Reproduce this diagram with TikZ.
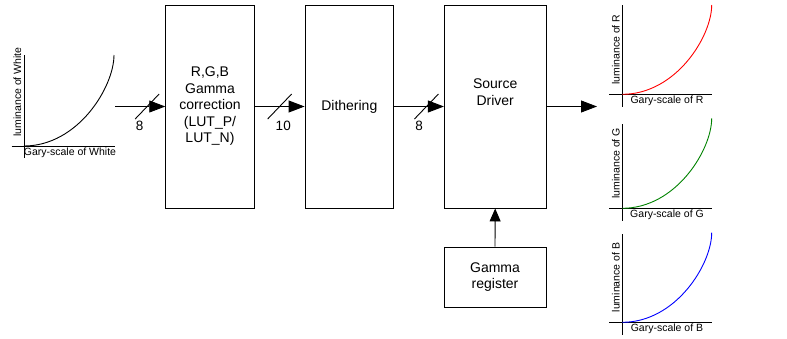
\documentclass[tikz,border=0pt]{standalone}
\usepackage{fontspec}
\setmainfont{Liberation Sans}
\usetikzlibrary{arrows.meta,positioning}
\definecolor{curveG}{RGB}{0,130,0}

\begin{document}
\begin{tikzpicture}[x=1pt, y=-1pt,
    block/.style={draw, line width=0.9pt, minimum width=88.6pt, minimum height=203pt,
        align=center, inner sep=0pt, font=\fontsize{14}{16.5}\selectfont},
    sig/.style={line width=0.9pt, -{Triangle[length=16pt,width=12pt]}},
    bus/.style={line width=0.9pt},
    num/.style={inner sep=0pt, font=\fontsize{13.5}{15}\selectfont},
    axis/.style={line width=0.9pt},
    small/.style={inner sep=1pt, font=\fontsize{10.5}{12}\selectfont}]
    \useasboundingbox (0,0) rectangle (787,338);

    % Blocks
    \node[block] (lut) at (210,106.5) {R,G,B\\Gamma\\correction\\(LUT\_P/\\LUT\_N)};
    \node[block] (dither) at (349.3,106.5) {Dithering};
    \node[block, minimum width=101.7pt] (driver) at (495.2,106.5) {};
    \node[align=center, font=\fontsize{14}{16.5}\selectfont] (drivertext)
        at ([yshift=14.5pt]driver.center) {Source\\Driver};
    \node[block, minimum width=102pt, minimum height=60.3pt] (reg) at (495,277.2) {Gamma\\register};

    % Input curve (white)
    \draw[axis] (24,55) -- (24,158);
    \draw[axis] (11.7,146) -- (115,146);
    \draw[line width=0.9pt] (24,146) .. controls (78,146) and (114,86.9) .. (114,55);
    \node[small, rotate=90, anchor=south] (ylabW) at (22.5,92) {luminance of White};
    \node[small, anchor=north] (xlabW) at (70,146.5) {Gary-scale of White};

    % Arrows with bus width
    \coordinate (in) at (115,106.5);
    \draw[sig] (in) -- coordinate[pos=0.64] (m1) (lut.west);
    \draw[bus] ([shift={(-12,12.5)}]m1) -- ([shift={(12,-12.5)}]m1);
    \node[num] (n1) at ([shift={(-7.5,19)}]m1) {8};

    \draw[sig] (lut.east) -- coordinate[pos=0.5] (m2) (dither.west);
    \draw[bus] ([shift={(-12,12.5)}]m2) -- ([shift={(12,-12.5)}]m2);
    \node[num] (n2) at ([shift={(3.6,19)}]m2) {10};

    \draw[sig] (dither.east) -- coordinate[pos=0.65] (m3) (driver.west);
    \draw[bus] ([shift={(-12,12.5)}]m3) -- ([shift={(12,-12.5)}]m3);
    \node[num] (n3) at ([shift={(-7.4,19)}]m3) {8};

    \coordinate (out) at (597,106.5);
    \draw[sig] (driver.east) -- (out);
    \draw[line width=0.9pt, -{Triangle[length=13pt,width=11pt]}] (reg.north) -- (driver.south);

    % Output curves (R, G, B)
    \foreach \oy/\top/\atop/\col/\what in {94.3/5/5/red/R, 208.3/118.3/124/curveG/G, 322.3/232.7/234/blue/B}{
        \pgfmathsetmacro\cy{\top+0.35*(\oy-\top)}
        \pgfmathsetmacro\my{(\top+\oy)/2}
        \draw[axis] (622.3,\atop) -- (622.3,\oy+12.4);
        \draw[axis] (609,\oy) -- (711.7,\oy);
        \draw[line width=0.9pt, \col] (622.3,\oy) .. controls (676,\oy) and (711.7,\cy) .. (711.7,\top);
        \node[small, rotate=90, anchor=south] at (621,\my) {luminance of \what};
        \node[small, anchor=north] at (667,\oy+0.5) {Gary-scale of \what};
    }
\end{tikzpicture}
\end{document}
